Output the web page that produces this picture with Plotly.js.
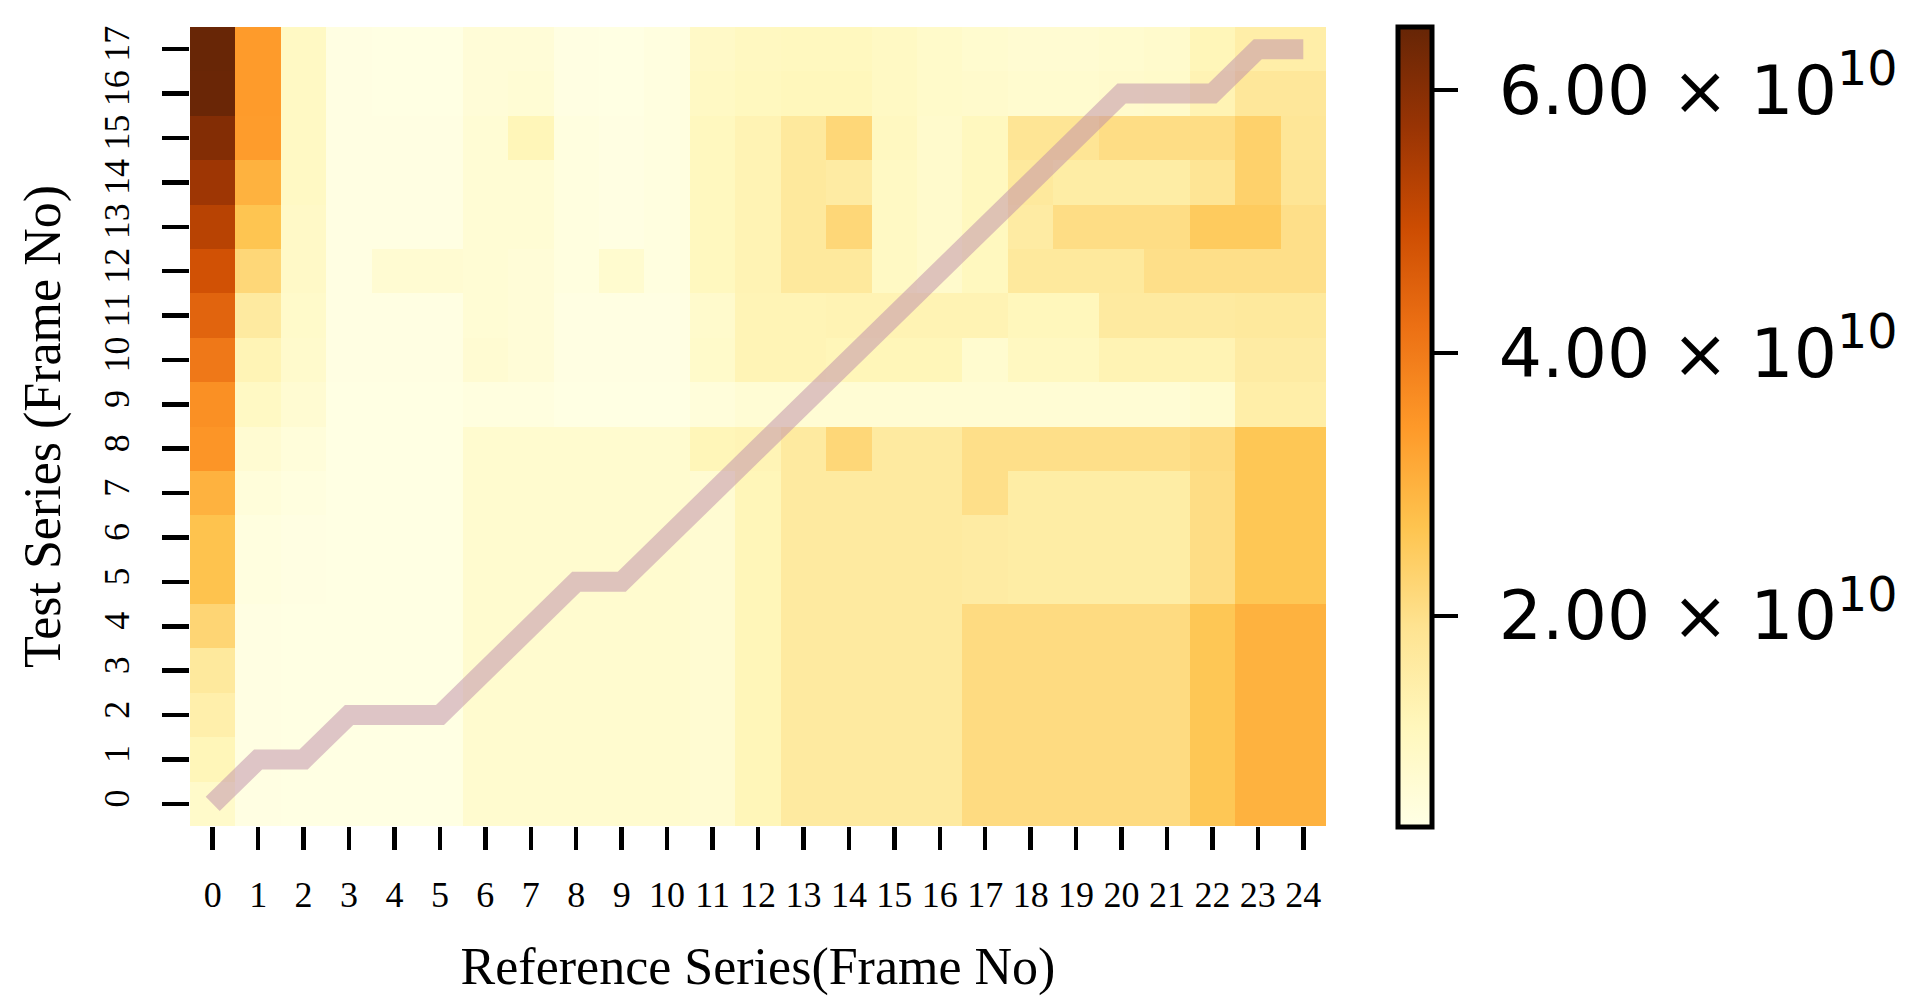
<!DOCTYPE html>
<html>
<head>
<meta charset="utf-8">
<script src="https://cdn.plot.ly/plotly-3.0.1.min.js"></script>
<style>
  html, body { margin: 0; padding: 0; background: #ffffff; }
  #chart { width: 1931px; height: 1001px; }
</style>
</head>
<body>
<div id="chart"></div>
<script>
// Reference frames (x) and test frames (y)
const referenceFrames = [0,1,2,3,4,5,6,7,8,9,10,11,12,13,14,15,16,17,18,19,20,21,22,23,24];
const testFrames = [0,1,2,3,4,5,6,7,8,9,10,11,12,13,14,15,16,17];
const referenceLabels = ['0','1','2','3','4','5','6','7','8','9','10','11','12','13','14','15','16','17','18','19','20','21','22','23','24'];
const testLabels = ['0','1','2','3','4','5','6','7','8','9','10','11','12','13','14','15','16','17'];

// Accumulated cost, in units of 1e10, one array per test frame (columns = reference frames 0..24)
const test00 = [0.90,0.45,0.42,0.42,0.42,0.42,0.80,0.80,0.80,0.80,0.80,0.75,1.20,1.65,1.65,1.65,1.65,2.10,2.10,2.10,2.10,2.10,2.60,3.00,3.00];
const test01 = [1.20,0.45,0.42,0.42,0.42,0.42,0.80,0.80,0.80,0.80,0.80,0.75,1.20,1.65,1.65,1.65,1.65,2.10,2.10,2.10,2.10,2.10,2.60,3.00,3.00];
const test02 = [1.45,0.45,0.42,0.42,0.42,0.42,0.80,0.80,0.80,0.80,0.80,0.75,1.20,1.65,1.65,1.65,1.65,2.10,2.10,2.10,2.10,2.10,2.60,3.00,3.00];
const test03 = [1.70,0.45,0.42,0.42,0.42,0.42,0.80,0.80,0.80,0.80,0.80,0.75,1.20,1.65,1.65,1.65,1.65,2.10,2.10,2.10,2.10,2.10,2.60,3.00,3.00];
const test04 = [2.25,0.45,0.42,0.42,0.42,0.42,0.80,0.80,0.80,0.80,0.80,0.75,1.20,1.65,1.65,1.65,1.65,2.10,2.10,2.10,2.10,2.10,2.60,3.00,3.00];
const test05 = [2.70,0.50,0.45,0.42,0.42,0.42,0.80,0.80,0.80,0.80,0.80,0.75,1.20,1.65,1.65,1.65,1.65,1.60,1.55,1.55,1.55,1.55,2.05,2.60,2.60];
const test06 = [2.70,0.50,0.45,0.42,0.42,0.42,0.80,0.80,0.80,0.80,0.80,0.75,1.20,1.65,1.65,1.65,1.65,1.60,1.55,1.55,1.55,1.55,2.05,2.60,2.60];
const test07 = [3.00,0.60,0.50,0.42,0.42,0.42,0.80,0.80,0.80,0.80,0.80,0.75,1.20,1.65,1.65,1.65,1.65,2.00,1.55,1.55,1.55,1.55,2.05,2.60,2.60];
const test08 = [3.50,0.75,0.60,0.42,0.42,0.42,0.80,0.80,0.80,0.80,0.80,1.20,1.25,1.65,2.20,1.65,1.65,2.00,2.00,2.00,2.00,2.00,2.10,2.60,2.60];
const test09 = [3.60,1.00,0.75,0.42,0.42,0.42,0.50,0.50,0.42,0.42,0.42,0.60,0.70,0.70,0.70,0.70,0.70,0.70,0.70,0.70,0.70,0.70,0.80,1.50,1.50];
const test10 = [4.05,1.25,0.85,0.45,0.45,0.45,0.75,0.65,0.45,0.45,0.45,0.90,1.25,1.25,1.20,1.20,1.20,0.80,1.05,1.05,1.30,1.30,1.30,1.60,1.60];
const test11 = [4.45,1.65,0.90,0.45,0.45,0.45,0.70,0.65,0.45,0.45,0.45,0.85,1.25,1.25,1.30,1.30,1.30,1.30,1.15,1.15,1.65,1.65,1.65,1.70,1.70];
const test12 = [4.85,2.20,0.95,0.45,0.75,0.75,0.70,0.65,0.50,0.80,0.50,1.10,1.30,1.70,1.70,1.00,0.85,1.10,1.70,1.70,1.70,2.00,2.00,2.00,2.00];
const test13 = [5.25,2.65,0.95,0.45,0.45,0.45,0.70,0.70,0.50,0.45,0.50,1.10,1.30,1.70,2.20,1.00,0.85,1.10,1.60,2.05,2.05,2.05,2.50,2.50,2.00];
const test14 = [5.65,3.00,1.00,0.45,0.45,0.45,0.70,0.70,0.50,0.45,0.50,1.10,1.30,1.70,1.60,1.00,0.85,1.10,1.70,1.55,1.55,1.55,1.85,2.35,1.85];
const test15 = [6.05,3.38,1.00,0.45,0.45,0.45,0.70,1.20,0.50,0.45,0.50,1.10,1.30,1.70,2.20,1.05,0.85,1.10,1.85,1.85,2.05,2.05,2.05,2.35,1.80];
const test16 = [6.42,3.40,1.00,0.45,0.42,0.42,0.65,0.70,0.45,0.42,0.50,1.00,1.10,1.15,1.15,1.00,0.90,0.85,0.80,0.80,0.85,0.90,1.30,1.75,1.75];
const test17 = [6.45,3.40,1.00,0.45,0.42,0.42,0.65,0.65,0.45,0.42,0.50,0.95,1.05,1.10,1.10,1.00,0.90,0.80,0.75,0.75,0.80,0.85,1.20,1.50,1.50];

// Warping path (reference frame, test frame)
const pathReference = [0,1,2,3,4,5,6,7,8,9,10,11,12,13,14,15,16,17,18,19,20,21,22,23,24];
const pathTest      = [0,1,1,2,2,2,3,4,5,5,6,7,8,9,10,11,12,13,14,15,16,16,16,17,17];

// Colour bar ticks
const colorbarTickValues = [2, 4, 6];
const colorbarTickText = ['\u2009\u20092.00 × 10<sup>10</sup>', '\u2009\u20094.00 × 10<sup>10</sup>', '\u2009\u20096.00 × 10<sup>10</sup>'];
const costMin = 0.39, costMax = 6.48;

const ylorbr = [
  [0.000, '#ffffe5'], [0.125, '#fff7bc'], [0.250, '#fee391'], [0.375, '#fec44f'],
  [0.500, '#fe9929'], [0.625, '#ec7014'], [0.750, '#cc4c02'], [0.875, '#993404'], [1.000, '#662506']
];

const z = [test00,test01,test02,test03,test04,test05,test06,test07,test08,test09,
           test10,test11,test12,test13,test14,test15,test16,test17];

const serif = 'Liberation Serif, Times New Roman, serif';

const heat = {
  type: 'heatmap',
  x: referenceFrames,
  y: testFrames,
  z: z,
  zmin: costMin,
  zmax: costMax,
  colorscale: ylorbr,
  zsmooth: false,
  hoverinfo: 'skip',
  colorbar: {
    thickness: 34, thicknessmode: 'pixels',
    len: 800, lenmode: 'pixels',
    x: 1.0638, xanchor: 'left', xpad: 0,
    y: 1.0, yanchor: 'top', ypad: 0,
    outlinewidth: 5, outlinecolor: '#000',
    ticks: 'outside', ticklen: 24, tickwidth: 4, tickcolor: '#000',
    tickvals: colorbarTickValues, ticktext: colorbarTickText,
    tickfont: { family: 'DejaVu Sans', size: 68, color: '#000' }
  }
};

const path = {
  type: 'scatter', mode: 'lines',
  x: pathReference, y: pathTest,
  line: { color: 'rgba(190,140,170,0.5)', width: 20 },
  hoverinfo: 'skip', showlegend: false
};

const layout = {
  width: 1931, height: 1001,
  margin: { l: 190, r: 605, t: 27, b: 175 },
  paper_bgcolor: '#ffffff', plot_bgcolor: '#ffffff',
  showlegend: false,
  xaxis: {
    tickvals: referenceFrames, ticktext: referenceLabels,
    range: [-0.5, 24.5],
    ticks: 'outside', ticklen: 23, tickwidth: 4.5, tickcolor: '#000',
    ticklabelstandoff: 14,
    showgrid: false, zeroline: false, showline: false,
    tickfont: { family: serif, size: 36, color: '#000' },
    title: { text: 'Reference Series(Frame No)', font: { family: serif, size: 52, color: '#000' }, standoff: 33 }
  },
  yaxis: {
    tickvals: testFrames, ticktext: testLabels,
    range: [-0.5, 17.5],
    ticks: 'outside', ticklen: 27, tickwidth: 4.5, tickcolor: '#000',
    ticklabelstandoff: 19,
    tickangle: -90,
    showgrid: false, zeroline: false, showline: false,
    tickfont: { family: serif, size: 36, color: '#000' },
    title: { text: 'Test Series (Frame No)', font: { family: serif, size: 52, color: '#000' }, standoff: 19 }
  }
};

Plotly.newPlot('chart', [heat, path], layout, { displayModeBar: false, staticPlot: true });
</script>
</body>
</html>
